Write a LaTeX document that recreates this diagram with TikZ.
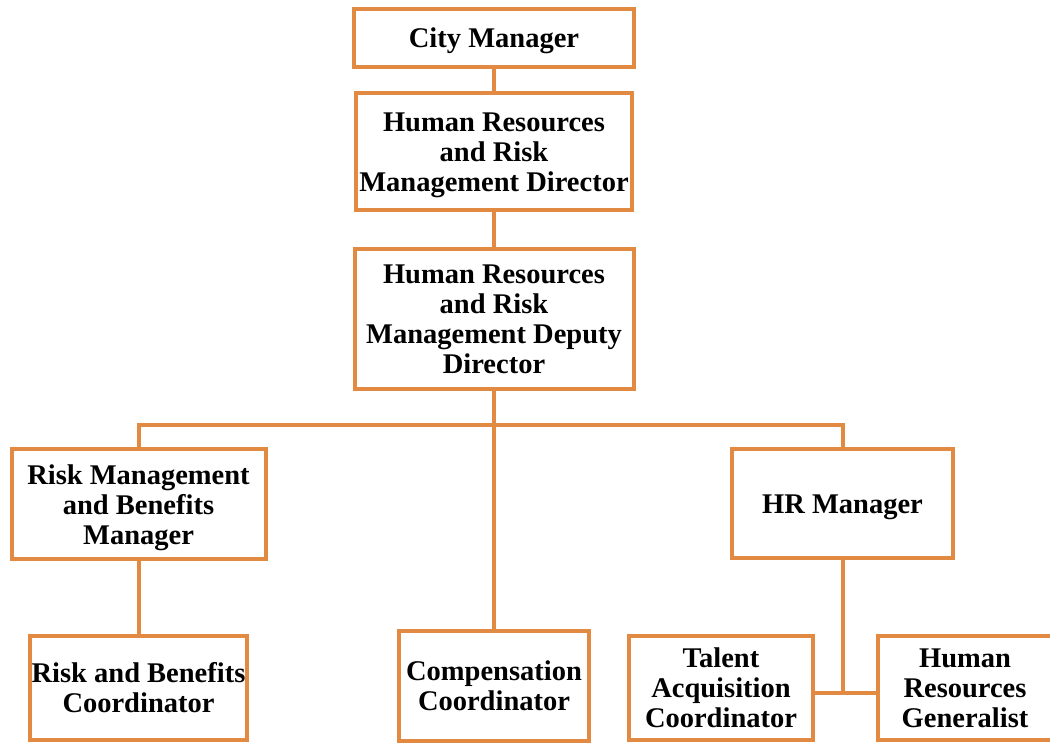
\documentclass[tikz,border=0pt]{standalone}
\usepackage{fontspec}
\setmainfont{Liberation Serif}
\definecolor{orgline}{RGB}{226,137,66}
\newcommand\boxtxt[1]{\raisebox{-4pt}[\height][\depth]{\begin{tabular}{@{}c@{}}#1\end{tabular}}}
\begin{document}
\begin{tikzpicture}[x=1pt,y=1pt,
  box/.style={draw=orgline,line width=4pt,rectangle,inner sep=0pt,
    font=\fontsize{28.5}{30}\selectfont\bfseries},
  conn/.style={draw=orgline,line width=4pt}]
\useasboundingbox (0,0) rectangle (1050,744);
\node[box,minimum width=280,minimum height=58] (city) at (494,706) {\boxtxt{City Manager}};
\node[box,minimum width=276,minimum height=117] (dir) at (494,592.5) {\boxtxt{Human Resources\\and Risk\\Management Director}};
\node[box,minimum width=279,minimum height=140] (dep) at (494,425) {\boxtxt{Human Resources\\and Risk\\Management Deputy\\Director}};
\node[box,minimum width=254,minimum height=110] (rmb) at (138.5,239.5) {\boxtxt{Risk Management\\and Benefits\\Manager}};
\node[box,minimum width=217,minimum height=104] (rbc) at (138.5,56) {\boxtxt{Risk and Benefits\\Coordinator}};
\node[box,minimum width=190,minimum height=110] (comp) at (494,58) {\boxtxt{Compensation\\Coordinator}};
\node[box,minimum width=221,minimum height=109] (hrm) at (842.5,240.5) {\boxtxt{HR Manager}};
\node[box,minimum width=184,minimum height=104] (tac) at (721,56) {\boxtxt{Talent\\Acquisition\\Coordinator}};
\node[box,minimum width=174,minimum height=104] (hrg) at (965,56) {\boxtxt{Human\\Resources\\Generalist}};
\coordinate (bus) at (494,319);
\coordinate (j) at (842.5,51);
\draw[conn] (city) -- (dir);
\draw[conn] (dir) -- (dep);
\draw[conn] (dep) -- (comp);
\draw[conn] (rmb.north) |- (bus) -| (hrm.north);
\draw[conn] (rmb) -- (rbc);
\draw[conn] (hrm.south) -- (j);
\draw[conn] (tac.east |- j) -- (hrg.west |- j);
\end{tikzpicture}
\end{document}
